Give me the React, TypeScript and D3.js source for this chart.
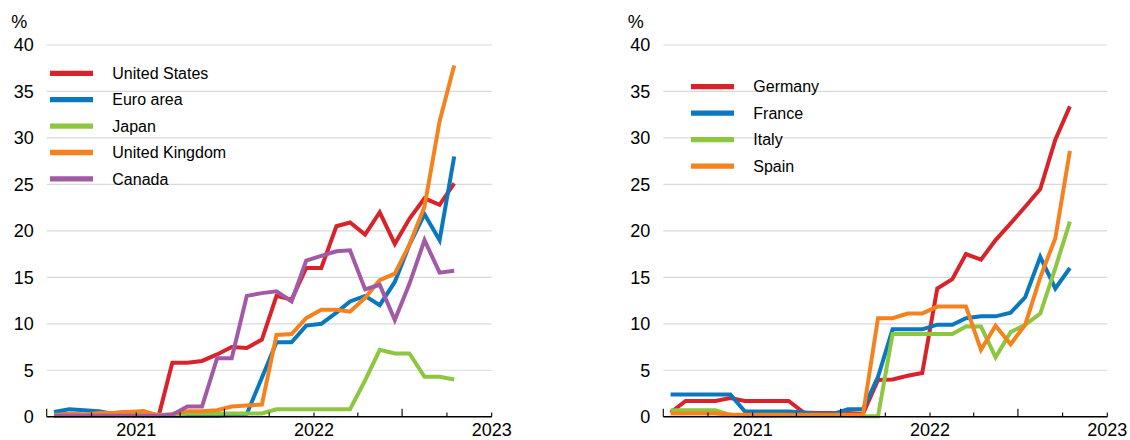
import React from "react";
import * as d3 from "d3";

const months = [
  "2020-07","2020-08","2020-09","2020-10","2020-11","2020-12",
  "2021-01","2021-02","2021-03","2021-04","2021-05","2021-06",
  "2021-07","2021-08","2021-09","2021-10","2021-11","2021-12",
  "2022-01","2022-02","2022-03","2022-04","2022-05","2022-06",
  "2022-07","2022-08","2022-09","2022-10",
];

const unitedStates = [0.2,0.3,0.2,0.3,0.4,0.5,0.5,0.1,5.8,5.8,6.0,6.7,7.5,7.4,8.3,13.0,12.6,16.0,16.0,20.5,20.9,19.6,22.0,18.6,21.3,23.5,22.8,25.1];
const euroArea = [0.5,0.8,0.7,0.6,0.3,0.2,0.1,0.1,0.1,0.1,0.1,0.1,0.2,0.3,4.2,8.0,8.0,9.8,10.0,11.2,12.4,13.0,12.0,14.5,18.5,21.8,19.0,28.0];
const japan = [0.2,0.2,0.2,0.2,0.2,0.2,0.2,0.2,0.2,0.35,0.35,0.35,0.35,0.35,0.35,0.8,0.8,0.8,0.8,0.8,0.8,3.9,7.2,6.8,6.8,4.3,4.3,4.0];
const unitedKingdom = [0.1,0.3,0.2,0.4,0.4,0.5,0.6,0.1,0.3,0.6,0.6,0.7,1.1,1.2,1.3,8.8,8.9,10.6,11.5,11.5,11.3,12.8,14.7,15.4,18.5,22.6,31.8,37.8];
const canada = [0.1,0.1,0.1,0.1,0.1,0.1,0.1,0.1,0.2,1.1,1.1,6.3,6.3,13.0,13.3,13.5,12.4,16.8,17.3,17.8,17.9,13.7,14.2,10.4,14.3,19.0,15.5,15.7];

const germany = [0.45,1.7,1.7,1.7,2.0,1.7,1.7,1.7,1.7,0.45,0.4,0.4,0.4,0.3,3.95,4.0,4.4,4.7,13.8,14.8,17.5,16.9,19.0,20.8,22.6,24.5,29.8,33.4];
const france = [2.4,2.4,2.4,2.4,2.4,0.55,0.55,0.55,0.55,0.45,0.3,0.3,0.8,0.8,4.3,9.4,9.4,9.4,9.9,9.9,10.6,10.8,10.8,11.2,12.85,17.2,13.8,16.0];
const italy = [0.7,0.7,0.7,0.7,0.2,0.1,0.1,0.1,0.1,0.1,0.1,0.1,0.1,0.05,0.05,8.9,8.9,8.9,8.9,8.9,9.7,9.7,6.4,9.1,9.9,11.1,16.0,21.0];
const spain = [0.35,0.35,0.35,0.35,0.2,0.2,0.2,0.2,0.2,0.2,0.2,0.2,0.2,0.2,10.6,10.6,11.1,11.1,11.85,11.85,11.85,7.2,9.8,7.8,9.9,15.0,19.2,28.6];

const yTicks = [0, 5, 10, 15, 20, 25, 30, 35, 40];
const yearLabels = ["2021", "2022", "2023"];

const leftNames = ["United States", "Euro area", "Japan", "United Kingdom", "Canada"];
const rightNames = ["Germany", "France", "Italy", "Spain"];

const RED = "#d9232b";
const BLUE = "#0a78bf";
const GREEN = "#8dc63f";
const ORANGE = "#f5821f";
const PURPLE = "#a25aa7";

const FONT = "'Liberation Sans', Arial, Helvetica, sans-serif";

const parseMonth = (s: string) => {
  const [y, m] = s.split("-").map(Number);
  return new Date(y, m - 1, 16);
};

type Series = { name: string; values: number[]; color: string };

function Panel({
  x0, x1, series, legendX, legendY, legendGap,
}: {
  x0: number; x1: number; series: Series[]; legendX: number; legendY: number; legendGap: number;
}) {
  const x = d3.scaleTime().domain([new Date(2020, 6, 1), new Date(2023, 0, 1)]).range([x0, x1]);
  const y = d3.scaleLinear().domain([0, 40]).range([416.7, 45]);
  const dates = months.map(parseMonth);
  const line = d3.line<number>().x((_, i) => x(dates[i])).y((v) => y(v));
  const quarterTicks = d3.timeMonth.every(3)!.range(new Date(2020, 6, 1), new Date(2023, 0, 2));
  return (
    <g>
      {yTicks.map((t) => (
        <line key={"g" + t} x1={x0} x2={x1} y1={y(t)} y2={y(t)} stroke="#d9d9d9" strokeWidth={1.2} />
      ))}
      {yTicks.map((t) => (
        <text key={"yl" + t} x={x0 - 13} y={y(t)} dy="0.35em" textAnchor="end" fontSize={18} fontFamily={FONT} fill="#000">
          {t}
        </text>
      ))}
      <text x={x0 - 35.5} y={28} fontSize={18} fontFamily={FONT} fill="#000">%</text>
      {series.map((s) => (
        <path key={s.name} d={line(s.values) || ""} fill="none" stroke={s.color} strokeWidth={4} strokeLinejoin="miter" strokeMiterlimit={3} />
      ))}
      <line x1={x0} x2={x1} y1={y(0)} y2={y(0)} stroke="#000" strokeWidth={1.6} />
      {quarterTicks.map((d, i) => {
        const tall = d.getMonth() === 6;
        return (
          <line key={"t" + i} x1={x(d)} x2={x(d)} y1={y(0)} y2={y(0) - (tall ? 8 : 4.3)} stroke="#000" strokeWidth={1.1} />
        );
      })}
      {yearLabels.map((lab) => (
        <text key={lab} x={x(new Date(+lab, 0, 1))} y={436} textAnchor="middle" fontSize={18} fontFamily={FONT} fill="#000">
          {lab}
        </text>
      ))}
      {series.map((s, i) => (
        <g key={"lg" + s.name}>
          <line x1={legendX} x2={legendX + 43} y1={legendY + i * legendGap} y2={legendY + i * legendGap} stroke={s.color} strokeWidth={5.3} />
          <text x={legendX + 62.3} y={legendY + i * legendGap} dy="0.35em" fontSize={16} fontFamily={FONT} fill="#000">
            {s.name}
          </text>
        </g>
      ))}
    </g>
  );
}

export default function App() {
  const leftSeries: Series[] = [
    { name: leftNames[0], values: unitedStates, color: RED },
    { name: leftNames[1], values: euroArea, color: BLUE },
    { name: leftNames[2], values: japan, color: GREEN },
    { name: leftNames[3], values: unitedKingdom, color: ORANGE },
    { name: leftNames[4], values: canada, color: PURPLE },
  ];
  const rightSeries: Series[] = [
    { name: rightNames[0], values: germany, color: RED },
    { name: rightNames[1], values: france, color: BLUE },
    { name: rightNames[2], values: italy, color: GREEN },
    { name: rightNames[3], values: spain, color: ORANGE },
  ];
  return (
    <svg width={1130} height={440} style={{ position: "absolute", left: 0, top: 0, background: "#fff" }}>
      <Panel x0={46.7} x1={491.7} series={leftSeries} legendX={50} legendY={73.3} legendGap={26.4} />
      <Panel x0={663.3} x1={1107.3} series={rightSeries} legendX={691} legendY={86.7} legendGap={26.5} />
    </svg>
  );
}
